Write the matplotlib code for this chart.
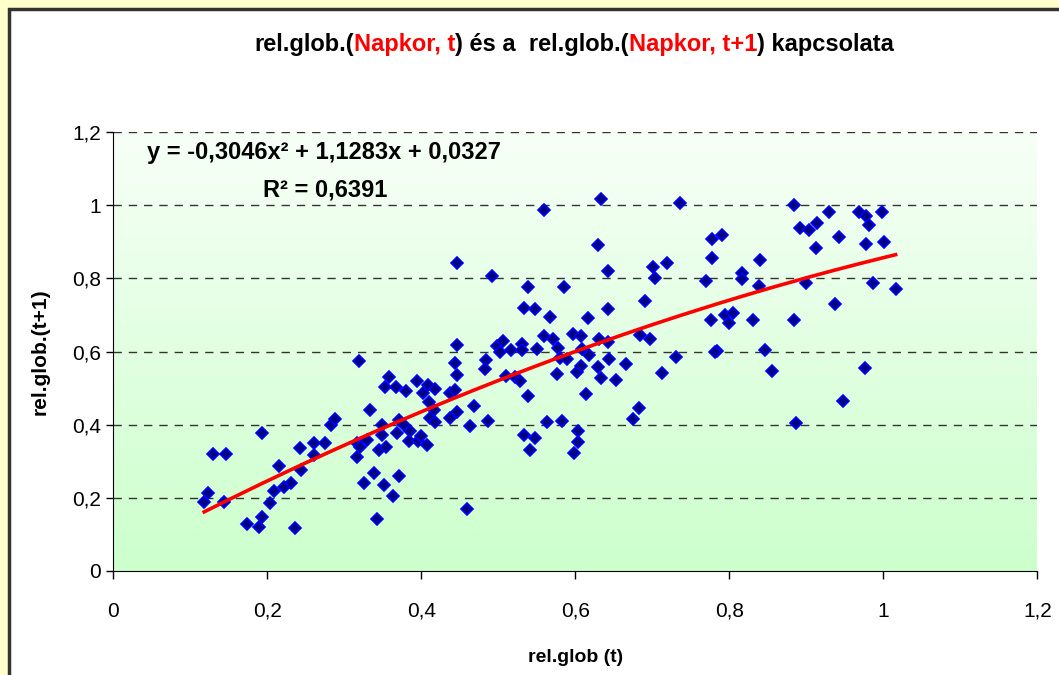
import numpy as np
import matplotlib
matplotlib.use("Agg")
import matplotlib.pyplot as plt
from matplotlib.patches import Rectangle
from matplotlib.offsetbox import TextArea, HPacker, AnchoredOffsetbox
from matplotlib.colors import LinearSegmentedColormap

plt.rcParams['font.family'] = ['Liberation Sans', 'DejaVu Sans']

# rel.glob(t) -> rel.glob(t+1)
x_t = [0.129, 0.147, 0.193, 0.123, 0.118, 0.144, 0.173, 0.189, 0.193, 0.204,
       0.209, 0.215, 0.222, 0.231, 0.236, 0.242, 0.244, 0.261, 0.261, 0.275,
       0.283, 0.288, 0.319, 0.333, 0.316, 0.316, 0.320, 0.330, 0.325, 0.339,
       0.343, 0.352, 0.363, 0.371, 0.345, 0.354, 0.349, 0.349, 0.358, 0.353,
       0.367, 0.380, 0.369, 0.371, 0.378, 0.385, 0.384, 0.396, 0.400, 0.407,
       0.395, 0.402, 0.409, 0.418, 0.410, 0.416, 0.411, 0.418, 0.437, 0.444,
       0.437, 0.446, 0.446, 0.444, 0.446,
       0.446, 0.492, 0.629, 0.642, 0.701, 0.703, 0.539, 0.585, 0.533, 0.548,
       0.567, 0.616, 0.642, 0.690, 0.498, 0.506, 0.502, 0.517, 0.531, 0.531,
       0.550, 0.559, 0.571, 0.578, 0.580, 0.589, 0.597, 0.608, 0.609, 0.618,
       0.631, 0.643, 0.684, 0.697, 0.644, 0.666, 0.602, 0.608, 0.629, 0.633,
       0.653, 0.576, 0.538, 0.614, 0.510, 0.522, 0.528, 0.484, 0.483, 0.468,
       0.463, 0.486, 0.459, 0.563, 0.583, 0.533, 0.548, 0.541, 0.603, 0.604,
       0.598, 0.683, 0.675,
       0.634, 0.736, 0.884, 0.930, 0.968, 0.892, 0.904, 0.914, 0.943, 0.913,
       0.777, 0.791, 0.778, 0.719, 0.770, 0.816, 0.816, 0.840, 0.838, 0.900,
       0.937, 0.776, 0.795, 0.805, 0.800, 0.831, 0.884, 0.713, 0.731, 0.784,
       0.782, 0.846, 0.855, 0.887, 0.948,
       0.977, 0.998, 0.981, 0.977, 1.001, 0.987, 1.016, 0.976, 0.559]
y_t1 = [0.320, 0.320, 0.378, 0.214, 0.189, 0.189, 0.128, 0.121, 0.147, 0.185,
        0.218, 0.287, 0.229, 0.241, 0.117, 0.335, 0.276, 0.349, 0.316, 0.349,
        0.398, 0.416, 0.575, 0.440, 0.349, 0.312, 0.340, 0.358, 0.241, 0.267,
        0.141, 0.234, 0.205, 0.261, 0.331, 0.340, 0.371, 0.398, 0.529, 0.502,
        0.502, 0.493, 0.378, 0.413, 0.400, 0.383, 0.354, 0.356, 0.369, 0.344,
        0.518, 0.486, 0.509, 0.498, 0.462, 0.440, 0.417, 0.407, 0.486, 0.496,
        0.417, 0.435, 0.618, 0.569, 0.536,
        0.841, 0.807, 0.890, 0.820, 0.831, 0.801, 0.777, 0.777, 0.719, 0.715,
        0.695, 0.691, 0.715, 0.739, 0.615, 0.629, 0.599, 0.604, 0.620, 0.604,
        0.608, 0.642, 0.633, 0.609, 0.581, 0.579, 0.648, 0.642, 0.608, 0.590,
        0.635, 0.627, 0.645, 0.633, 0.580, 0.566, 0.545, 0.560, 0.557, 0.527,
        0.522, 0.538, 0.478, 0.484, 0.533, 0.531, 0.520, 0.577, 0.551, 0.451,
        0.397, 0.411, 0.170, 0.407, 0.411, 0.372, 0.363, 0.331, 0.383, 0.352,
        0.322, 0.446, 0.415,
        1.018, 1.005, 1.000, 0.980, 0.980, 0.938, 0.932, 0.952, 0.913, 0.883,
        0.907, 0.918, 0.855, 0.841, 0.793, 0.815, 0.797, 0.850, 0.779, 0.788,
        0.730, 0.686, 0.700, 0.706, 0.677, 0.686, 0.686, 0.542, 0.584, 0.602,
        0.598, 0.604, 0.546, 0.405, 0.464,
        0.970, 0.980, 0.945, 0.893, 0.899, 0.786, 0.772, 0.555, 0.988]

# polynomial trendline from the chart label
coef = [-0.3046, 1.1283, 0.0327]
r2 = 0.6391

x_ticks = [0, 0.2, 0.4, 0.6, 0.8, 1.0, 1.2]
x_tick_labels = ['0', '0,2', '0,4', '0,6', '0,8', '1', '1,2']
y_ticks = [0, 0.2, 0.4, 0.6, 0.8, 1.0, 1.2]
y_tick_labels = ['0', '0,2', '0,4', '0,6', '0,8', '1', '1,2']

W, H = 1059, 675
fig = plt.figure(figsize=(W / 100, H / 100), dpi=100)
fig.patch.set_facecolor('#FFFFCC')

# white chart area with dark frame (runs off the right/bottom edge)
fig.patches.append(Rectangle((9 / W, -0.05), 1.05, 1 - 9 / H + 0.05,
                             transform=fig.transFigure, facecolor='white',
                             edgecolor='#333333', linewidth=2.5, zorder=-5))

ax = fig.add_axes([113.3 / W, 1 - 571 / H, (1037.3 - 113.3) / W, (571 - 132) / H])
ax.set_zorder(2)
ax.patch.set_alpha(0)
ax.set_xlim(0, 1.2)
ax.set_ylim(0, 1.2)

# gradient plot area
grad = LinearSegmentedColormap.from_list('g', ['#CCFFCC', '#F7FFF7'])
ax.imshow(np.linspace(0, 1, 256).reshape(-1, 1), cmap=grad, aspect='auto',
          extent=[0, 1.2, 0, 1.2], origin='lower', zorder=0)

for yv in y_ticks[1:]:
    ax.axhline(yv, color='#333333', linestyle=(0, (6, 5)), linewidth=1, zorder=1)

ax.plot(x_t, y_t1, linestyle='none', marker='D', markersize=5.8,
        markerfacecolor='#000080', markeredgecolor='#0000FF',
        markeredgewidth=1.2, zorder=3)

xs = np.sort(np.array(x_t))
ax.plot(xs, np.polyval(coef, xs), color='#FF0000', linewidth=2.6, zorder=4)

ax.set_xticks(x_ticks)
ax.set_xticklabels(x_tick_labels, fontsize=15)
ax.set_yticks(y_ticks)
ax.set_yticklabels(y_tick_labels, fontsize=15)
ax.tick_params(axis='x', direction='out', length=6, pad=16, width=1)
ax.tick_params(axis='y', direction='out', length=5, pad=4, width=1)
ax.spines['top'].set_visible(False)
ax.spines['right'].set_visible(False)
ax.spines['left'].set_color('black')
ax.spines['bottom'].set_color('black')

fig.text(576 / W, 1 - 658 / H, 'rel.glob (t)', ha='center', va='center',
         fontsize=14, fontweight='bold')
fig.text(40 / W, 1 - 352 / H, 'rel.glob.(t+1)', ha='center', va='center',
         rotation=90, fontsize=15, fontweight='bold')

eq = 'y = {:.4f}x\u00b2 + {:.4f}x + {:.4f}'.format(*coef).replace('.', ',')
fig.text(147 / W, 1 - 153 / H, eq, ha='left', va='center',
         fontsize=17, fontweight='bold')
fig.text(263 / W, 1 - 190 / H, 'R\u00b2 = ' + '{:.4f}'.format(r2).replace('.', ','),
         ha='left', va='center', fontsize=17, fontweight='bold')

# title with red parts
parts = [('rel.glob.(', 'black'), ('Napkor, t', '#FF0000'), (') és a  rel.glob.(', 'black'),
         ('Napkor, t+1', '#FF0000'), (') kapcsolata', 'black')]
boxes = [TextArea(s, textprops=dict(color=c, fontsize=17, fontweight='bold')) for s, c in parts]
title = AnchoredOffsetbox(loc='center', child=HPacker(children=boxes, pad=0, sep=0),
                          bbox_to_anchor=(574 / W, 1 - 45 / H), bbox_transform=fig.transFigure,
                          frameon=False, pad=0, borderpad=0)
fig.add_artist(title)

fig.savefig('out.png', dpi=100, facecolor=fig.get_facecolor())
